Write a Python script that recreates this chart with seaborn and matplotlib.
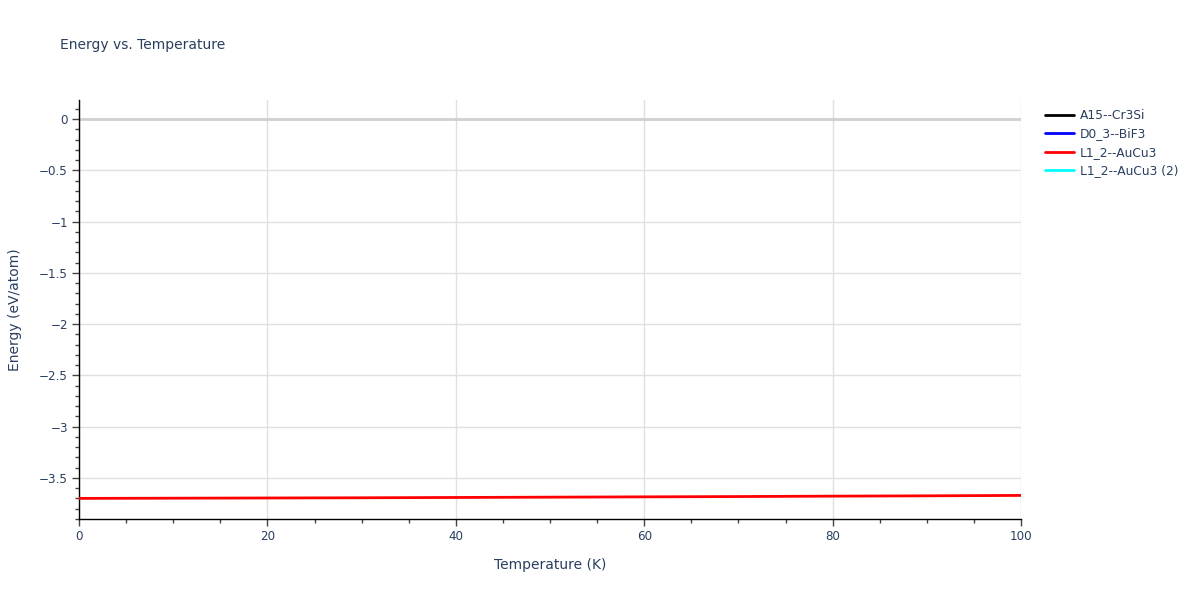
import matplotlib
matplotlib.use("Agg")
import matplotlib.pyplot as plt
from matplotlib.lines import Line2D
from matplotlib.ticker import MultipleLocator
import seaborn as sns
import pandas as pd

# ---- data ----
series_names = ["A15--Cr3Si", "D0_3--BiF3", "L1_2--AuCu3", "L1_2--AuCu3 (2)"]
series_colors = ["#000000", "#0000ff", "#ff0000", "#00ffff"]
temperature = [0, 10, 20, 30, 40, 50, 60, 70, 80, 90, 100]
energy_l12 = [-3.699, -3.697, -3.695, -3.693, -3.690, -3.687, -3.684, -3.681, -3.677, -3.674, -3.670]
y_ticks = [0, -0.5, -1, -1.5, -2, -2.5, -3, -3.5]

df = pd.DataFrame({"Temperature": temperature, "Energy": energy_l12,
                   "Structure": ["L1_2--AuCu3"] * len(temperature)})

sns.set_theme(style="white")
plt.rcParams['font.family'] = ['DejaVu Sans']
text_color = "#2a3f5f"

fig = plt.figure(figsize=(12, 6), dpi=100)
ax = fig.add_axes([79/1200, 1 - 519/600, (1021 - 79)/1200, (519 - 100)/600])

sns.lineplot(data=df, x="Temperature", y="Energy", hue="Structure",
             palette={"L1_2--AuCu3": "#ff0000"}, ax=ax, linewidth=2,
             legend=False, zorder=3)

ax.set_xlim(0, 100)
ax.set_ylim(-3.90, 0.187)
ax.xaxis.set_major_locator(MultipleLocator(20))
ax.xaxis.set_minor_locator(MultipleLocator(5))
ax.yaxis.set_minor_locator(MultipleLocator(0.1))

ax.grid(True, which="major", color="#e0e0e0", linewidth=1)
ax.axhline(0, color="#d0d0d0", linewidth=2, zorder=1)
for s in ["top", "right"]:
    ax.spines[s].set_visible(False)
for s in ["left", "bottom"]:
    ax.spines[s].set_color("black")
    ax.spines[s].set_linewidth(1)

ax.tick_params(axis="both", which="major", direction="out", length=5, width=1,
               color="#444444", labelsize=8.6, labelcolor=text_color, pad=3,
               left=True, bottom=True)
ax.tick_params(axis="both", which="minor", direction="out", length=3, width=1,
               color="#444444", left=True, bottom=True)

def fmt(v):
    return f"{v:g}".replace("-", "\u2212")
ax.set_yticks(y_ticks)
ax.set_yticklabels([fmt(v) for v in y_ticks])

ax.set_xlabel("Temperature (K)", fontsize=10, color=text_color, labelpad=11)
ax.set_ylabel("Energy (eV/atom)", fontsize=10, color=text_color, labelpad=12)

fig.text(60/1200, 1 - 45/600, "Energy vs. Temperature", fontsize=10,
         color=text_color, va="center", ha="left")

handles = [Line2D([0], [0], color=c, linewidth=2) for c in series_colors]
leg = fig.legend(handles, series_names, loc="upper left",
                 bbox_to_anchor=(1040/1200, 1 - 104/600), frameon=False,
                 fontsize=8.8, handlelength=2.4, handletextpad=0.45,
                 labelspacing=0.45, borderaxespad=0)
for t in leg.get_texts():
    t.set_color(text_color)

fig.savefig("out.png", dpi=100)
